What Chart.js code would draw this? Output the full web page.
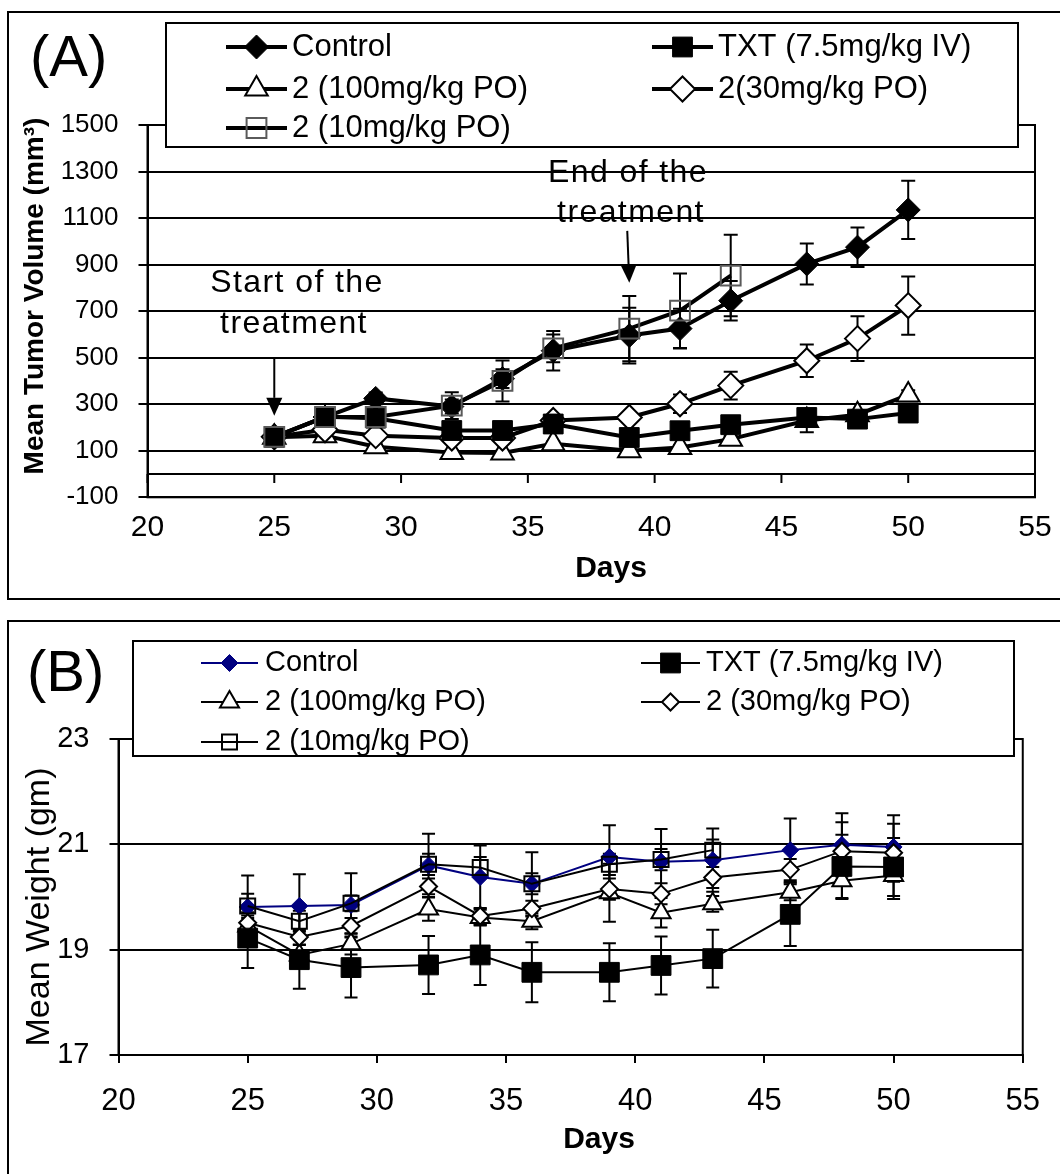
<!DOCTYPE html>
<html>
<head>
<meta charset="utf-8">
<script src="https://cdn.jsdelivr.net/npm/chart.js@4.4.1/dist/chart.umd.min.js"></script>
<style>
  html, body { margin: 0; padding: 0; background: #fff; }
  body { width: 1060px; height: 1174px; position: relative; overflow: hidden; }
  .panel { position: absolute; left: 7px; width: 1100px; border: 2px solid #000; box-sizing: border-box; }
  #panelA { top: 11px; height: 589px; }
  #panelB { top: 620px; height: 600px; }
  canvas { position: absolute; left: 0; }
  #chartA { top: 0; }
  #chartB { top: 610px; }
</style>
</head>
<body>
<div class="panel" id="panelA"></div>
<div class="panel" id="panelB"></div>
<canvas id="chartA" width="1060" height="600"></canvas>
<canvas id="chartB" width="1060" height="564"></canvas>
<script>
const FONT = "'Liberation Sans', Arial, sans-serif";

// x values (days)
const days = [25, 27, 29, 32, 34, 36, 39, 41, 43, 46, 48, 50];
const days10 = [25, 27, 29, 32, 34, 36, 39, 41, 43];
const xTicks = [20, 25, 30, 35, 40, 45, 50, 55];

// (A) mean tumour volume, mm3
const volTicks = [-100, 100, 300, 500, 700, 900, 1100, 1300, 1500];
const volControl = [160, 245, 325, 290, 410, 530, 595, 625, 745, 903, 975, 1135];
const volTXT = [158, 246, 240, 187, 187, 215, 157, 186, 212, 243, 236, 262];
const vol100 = [158, 165, 117, 92, 90, 130, 100, 114, 150, 230, 255, 340];
const vol30 = [160, 190, 165, 155, 155, 230, 243, 302, 380, 487, 582, 724];
const vol10 = [160, 245, 245, 294, 400, 540, 625, 702, 853];
const volControlErr = [10, 15, 25, 30, 40, 85, 120, 85, 85, 88, 85, 125];
const volTXTErr = [10, 15, 15, 15, 15, 15, 15, 15, 15, 20, 20, 20];
const vol100Err = [10, 10, 10, 10, 10, 10, 10, 10, 15, 50, 20, 20];
const vol30Err = [10, 10, 10, 10, 10, 15, 20, 40, 60, 70, 96, 125];
const vol10Err = [10, 15, 20, 57, 88, 60, 140, 160, 175];
const labelsA = ['Control', 'TXT (7.5mg/kg IV)', '2 (100mg/kg PO)', '2(30mg/kg PO)', '2 (10mg/kg PO)'];

// (B) mean body weight, gm
const wtTicks = [17, 19, 21, 23];
const wtControl = [19.81, 19.83, 19.85, 20.60, 20.38, 20.25, 20.76, 20.67, 20.70, 20.89, 20.99, 20.95];
const wtTXT = [19.22, 18.81, 18.66, 18.71, 18.90, 18.57, 18.57, 18.70, 18.83, 19.67, 20.58, 20.57];
const wt100 = [19.45, 18.90, 19.11, 19.77, 19.61, 19.54, 20.08, 19.70, 19.87, 20.09, 20.31, 20.41];
const wt30 = [19.51, 19.24, 19.45, 20.20, 19.64, 19.78, 20.15, 20.06, 20.37, 20.52, 20.87, 20.84];
const wt10 = [19.83, 19.54, 19.88, 20.62, 20.56, 20.25, 20.62, 20.71, 20.89];
const wtControlErr = [0.6, 0.6, 0.6, 0.6, 0.6, 0.6, 0.6, 0.62, 0.6, 0.6, 0.6, 0.6];
const wtTXTErr = [0.57, 0.55, 0.57, 0.55, 0.57, 0.57, 0.55, 0.55, 0.55, 0.6, 0.6, 0.55];
const wt100Err = [0.2, 0.2, 0.2, 0.22, 0.15, 0.15, 0.55, 0.28, 0.15, 0.15, 0.35, 0.45];
const wt30Err = [0.2, 0.15, 0.15, 0.15, 0.15, 0.15, 0.2, 0.2, 0.2, 0.2, 0.55, 0.55];
const wt10Err = [0.23, 0.2, 0.15, 0.2, 0.2, 0.2, 0.2, 0.2, 0.2];
const labelsB = ['Control', 'TXT (7.5mg/kg IV)', '2 (100mg/kg PO)', '2 (30mg/kg PO)', '2 (10mg/kg PO)'];

const pts = (xs, ys) => xs.map((x, i) => ({ x: x, y: ys[i] }));

function series(label, xs, ys, errs, style) {
    return Object.assign({ label: label, data: pts(xs, ys), errors: errs, fill: false, tension: 0 }, style);
}

// vertical error bars, drawn under the markers
const errorBars = {
    id: 'errorBars',
    beforeDatasetsDraw(chart, args, opts) {
        const { ctx, scales: { x, y } } = chart;
        ctx.save();
        ctx.strokeStyle = '#000';
        ctx.lineWidth = opts.width;
        chart.data.datasets.forEach(ds => {
            (ds.errors || []).forEach((e, i) => {
                const p = ds.data[i];
                const px = x.getPixelForValue(p.x);
                const yt = y.getPixelForValue(p.y + e), yb = y.getPixelForValue(p.y - e);
                ctx.beginPath();
                ctx.moveTo(px, yt); ctx.lineTo(px, yb);
                ctx.moveTo(px - opts.cap, yt); ctx.lineTo(px + opts.cap, yt);
                ctx.moveTo(px - opts.cap, yb); ctx.lineTo(px + opts.cap, yb);
                ctx.stroke();
            });
        });
        ctx.restore();
    }
};

// plot-area border, plus the zero line with its day ticks in (A)
const frame = {
    id: 'frame',
    beforeDatasetsDraw(chart, args, opts) {
        const { ctx, chartArea: a, scales: { x, y } } = chart;
        ctx.save();
        ctx.strokeStyle = '#000';
        ctx.lineWidth = 2;
        ctx.strokeRect(a.left, a.top, a.right - a.left, a.bottom - a.top);
        if (opts.zeroLine) {
            const y0 = y.getPixelForValue(0);
            ctx.beginPath();
            ctx.moveTo(a.left, y0); ctx.lineTo(a.right, y0);
            x.ticks.forEach(t => {
                const px = x.getPixelForValue(t.value);
                ctx.moveTo(px, y0); ctx.lineTo(px, y0 + opts.tick);
            });
            ctx.stroke();
        }
        ctx.restore();
    }
};

// boxed two-column legend like the Excel one
function makeLegend(box, cols, rows, font) {
    return {
        id: 'boxLegend',
        afterDraw(chart) {
            const ctx = chart.ctx;
            ctx.save();
            ctx.fillStyle = '#fff';
            ctx.strokeStyle = '#000';
            ctx.lineWidth = 2;
            ctx.fillRect(box[0], box[1], box[2], box[3]);
            ctx.strokeRect(box[0], box[1], box[2], box[3]);
            ctx.font = font;
            ctx.textBaseline = 'middle';
            ctx.textAlign = 'left';
            chart.data.datasets.forEach((ds, i) => {
                const c = cols[i % 2];
                const ry = rows[Math.floor(i / 2)];
                ctx.strokeStyle = ds.borderColor;
                ctx.lineWidth = ds.borderWidth;
                ctx.beginPath(); ctx.moveTo(c[0], ry); ctx.lineTo(c[1], ry); ctx.stroke();
                ctx.fillStyle = ds.pointBackgroundColor;
                ctx.strokeStyle = ds.pointBorderColor;
                ctx.lineWidth = ds.pointBorderWidth;
                Chart.helpers.drawPoint(ctx, { pointStyle: ds.pointStyle, radius: ds.pointRadius, borderWidth: ds.pointBorderWidth, rotation: 0 }, (c[0] + c[1]) / 2, ry);
                ctx.fillStyle = '#000';
                ctx.fillText(ds.label, c[2], ry);
            });
            ctx.restore();
        }
    };
}

// free text: titles, panel letter, notes
function makeTexts(items) {
    return {
        id: 'texts',
        afterDraw(chart) {
            const ctx = chart.ctx;
            items.forEach(t => {
                ctx.save();
                ctx.font = t.font;
                ctx.fillStyle = '#000';
                ctx.textAlign = t.align || 'left';
                ctx.textBaseline = 'alphabetic';
                if (t.spacing) ctx.letterSpacing = t.spacing;
                ctx.translate(t.x, t.y);
                if (t.rotate) ctx.rotate(t.rotate);
                ctx.fillText(t.text, 0, 0);
                ctx.restore();
            });
        }
    };
}

// arrows given in data units
function makeArrows(list) {
    return {
        id: 'arrows',
        afterDatasetsDraw(chart) {
            const { ctx, scales: { x, y } } = chart;
            ctx.save();
            ctx.strokeStyle = '#000';
            ctx.fillStyle = '#000';
            ctx.lineWidth = 2;
            list.forEach(a => {
                const x1 = x.getPixelForValue(a.from[0]), y1 = y.getPixelForValue(a.from[1]);
                const x2 = x.getPixelForValue(a.to[0]), y2 = y.getPixelForValue(a.to[1]);
                const ang = Math.atan2(y2 - y1, x2 - x1);
                const hl = 18, hw = 8;
                const bx = x2 - hl * Math.cos(ang), by = y2 - hl * Math.sin(ang);
                ctx.beginPath(); ctx.moveTo(x1, y1); ctx.lineTo(bx, by); ctx.stroke();
                ctx.beginPath();
                ctx.moveTo(x2, y2);
                ctx.lineTo(bx + hw * Math.sin(ang), by - hw * Math.cos(ang));
                ctx.lineTo(bx - hw * Math.sin(ang), by + hw * Math.cos(ang));
                ctx.closePath(); ctx.fill();
            });
            ctx.restore();
        }
    };
}

function scalesFor(yTicks, yMin, yMax, yWidth, xHeight, yFont, xFont, xPad, xGrid) {
    return {
        x: {
            type: 'linear', min: 20, max: 55,
            afterBuildTicks: s => { s.ticks = xTicks.map(v => ({ value: v })); },
            afterFit: s => { s.height = xHeight; },
            grid: xGrid ? { display: true, drawOnChartArea: false, drawTicks: true, tickLength: 8, color: '#000', lineWidth: 2 } : { display: false },
            border: { display: !!xGrid, color: '#000', width: 2 },
            ticks: { color: '#000', font: { family: FONT, size: xFont }, padding: xPad, maxRotation: 0, callback: v => String(v) }
        },
        y: {
            type: 'linear', min: yMin, max: yMax,
            afterBuildTicks: s => { s.ticks = yTicks.map(v => ({ value: v })); },
            afterFit: s => { s.width = yWidth; },
            grid: { color: '#000', lineWidth: 2, drawTicks: true, tickLength: 9, tickColor: '#000', tickWidth: 2 },
            border: { display: true, color: '#000', width: 2 },
            ticks: { color: '#000', font: { family: FONT, size: yFont }, padding: 20, callback: v => String(v) }
        }
    };
}

// ---------- (A) ----------
// order: smaller number is painted later (on top)
const openA = { pointBackgroundColor: '#fff', pointBorderColor: '#000', pointBorderWidth: 2 };
new Chart(document.getElementById('chartA'), {
    type: 'line',
    data: {
        datasets: [
            series(labelsA[0], days, volControl, volControlErr, { order: 5, borderColor: '#000', borderWidth: 4, pointStyle: 'rectRot', pointRadius: 12, pointBackgroundColor: '#000', pointBorderColor: '#000', pointBorderWidth: 1 }),
            series(labelsA[1], days, volTXT, volTXTErr, { order: 2, borderColor: '#000', borderWidth: 4, pointStyle: 'rect', pointRadius: 14, pointBackgroundColor: '#000', pointBorderColor: '#000', pointBorderWidth: 1 }),
            series(labelsA[2], days, vol100, vol100Err, Object.assign({ order: 4, borderColor: '#000', borderWidth: 4, pointStyle: 'triangle', pointRadius: 13 }, openA)),
            series(labelsA[3], days, vol30, vol30Err, Object.assign({ order: 3, borderColor: '#000', borderWidth: 4, pointStyle: 'rectRot', pointRadius: 12.5 }, openA)),
            series(labelsA[4], days10, vol10, vol10Err, { order: 1, borderColor: '#000', borderWidth: 4, pointStyle: 'rect', pointRadius: 14, pointBackgroundColor: 'rgba(0,0,0,0)', pointBorderColor: '#5a5a5a', pointBorderWidth: 2 })
        ]
    },
    options: {
        responsive: false, animation: false, devicePixelRatio: 1,
        layout: { padding: { left: 0, top: 125, right: 25, bottom: 0 } },
        scales: scalesFor(volTicks, -100, 1500, 147.5, 102.7, 26, 30, 4, false),
        plugins: {
            legend: { display: false }, tooltip: { enabled: false },
            errorBars: { cap: 7, width: 2 },
            frame: { zeroLine: true, tick: 9 }
        }
    },
    plugins: [
        frame, errorBars,
        makeArrows([{ from: [25, 500], to: [25, 250] }, { from: [38.92, 1045], to: [39, 822] }]),
        makeLegend([166, 23, 852, 124], [[226, 287, 292], [652, 713, 718]], [47, 89, 128], '31px ' + FONT),
        makeTexts([
            { text: '(A)', x: 30, y: 76, font: '58px ' + FONT },
            { text: 'Start of the', x: 297, y: 292, align: 'center', font: '32px ' + FONT, spacing: '1.4px' },
            { text: 'treatment', x: 294, y: 333, align: 'center', font: '32px ' + FONT, spacing: '1.4px' },
            { text: 'End of the', x: 628, y: 182, align: 'center', font: '32px ' + FONT, spacing: '1.4px' },
            { text: 'treatment', x: 631, y: 222, align: 'center', font: '32px ' + FONT, spacing: '1.4px' },
            { text: 'Mean Tumor Volume (mm³)', x: 43, y: 296, align: 'center', rotate: -Math.PI / 2, font: 'bold 28px ' + FONT },
            { text: 'Days', x: 611, y: 577, align: 'center', font: 'bold 30px ' + FONT }
        ])
    ]
});

// ---------- (B) ----------
const openB = { pointBackgroundColor: '#fff', pointBorderColor: '#000', pointBorderWidth: 2 };
new Chart(document.getElementById('chartB'), {
    type: 'line',
    data: {
        datasets: [
            series(labelsB[0], days, wtControl, wtControlErr, { order: 5, borderColor: '#000080', borderWidth: 2, pointStyle: 'rectRot', pointRadius: 8.5, pointBackgroundColor: '#000080', pointBorderColor: '#000080', pointBorderWidth: 1 }),
            series(labelsB[1], days, wtTXT, wtTXTErr, { order: 2, borderColor: '#000', borderWidth: 2, pointStyle: 'rect', pointRadius: 14, pointBackgroundColor: '#000', pointBorderColor: '#000', pointBorderWidth: 1 }),
            series(labelsB[2], days, wt100, wt100Err, Object.assign({ order: 4, borderColor: '#000', borderWidth: 2, pointStyle: 'triangle', pointRadius: 11 }, openB)),
            series(labelsB[3], days, wt30, wt30Err, Object.assign({ order: 3, borderColor: '#000', borderWidth: 2, pointStyle: 'rectRot', pointRadius: 8.5 }, openB)),
            series(labelsB[4], days10, wt10, wt10Err, { order: 1, borderColor: '#000', borderWidth: 2, pointStyle: 'rect', pointRadius: 10.6, pointBackgroundColor: 'rgba(0,0,0,0)', pointBorderColor: '#000', pointBorderWidth: 2 })
        ]
    },
    options: {
        responsive: false, animation: false, devicePixelRatio: 1,
        layout: { padding: { left: 0, top: 129, right: 30, bottom: 0 } },
        scales: scalesFor(wtTicks, 17, 23, 118.5, 119, 29, 31, 20, true),
        plugins: {
            legend: { display: false }, tooltip: { enabled: false },
            errorBars: { cap: 6.5, width: 2 },
            frame: { zeroLine: false }
        }
    },
    plugins: [
        frame, errorBars,
        makeLegend([133, 31, 881, 115], [[201, 258, 265], [641, 700, 706]], [53, 92, 132], '29px ' + FONT),
        makeTexts([
            { text: '(B)', x: 27, y: 81, font: '58px ' + FONT },
            { text: 'Mean Weight (gm)', x: 49, y: 297, align: 'center', rotate: -Math.PI / 2, font: '34px ' + FONT },
            { text: 'Days', x: 599, y: 538, align: 'center', font: 'bold 30px ' + FONT }
        ])
    ]
});
</script>
</body>
</html>
